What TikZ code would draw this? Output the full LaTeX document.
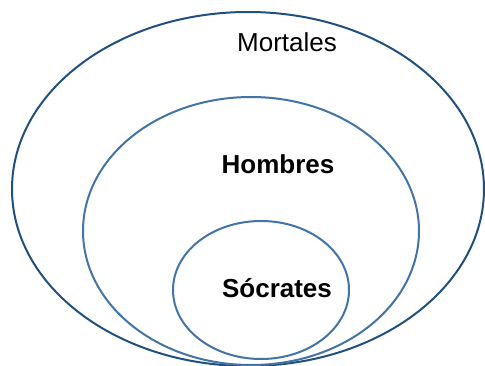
\documentclass[tikz,border=0pt]{standalone}
\usepackage{fontspec}
\setmainfont{Liberation Sans}
\definecolor{outerblue}{HTML}{21507F}
\definecolor{innerblue}{HTML}{4274A6}
\tikzset{
  outerset/.style={draw=outerblue, line width=2pt},
  innerset/.style={draw=innerblue, line width=2pt},
  lbl/.style={anchor=base, font=\fontsize{26}{30}\selectfont, inner sep=0pt},
  blbl/.style={lbl, font=\fontsize{26}{30}\selectfont\bfseries}
}
\begin{document}
\begin{tikzpicture}[x=1pt,y=1pt]
\useasboundingbox (0,0) rectangle (485,365);
\fill[white] (0,0) rectangle (485,365);
\draw[outerset] (248,176) ellipse [x radius=236, y radius=177];
\draw[innerset] (251,134) ellipse [x radius=168, y radius=134];
\draw[innerset] (261,75) ellipse [x radius=88, y radius=69];
\node[lbl] (mortales) at (287,313) {Mortales};
\node[blbl] (hombres) at (278,192) {Hombres};
\node[blbl] (socrates) at (277,68) {Sócrates};
\end{tikzpicture}
\end{document}
